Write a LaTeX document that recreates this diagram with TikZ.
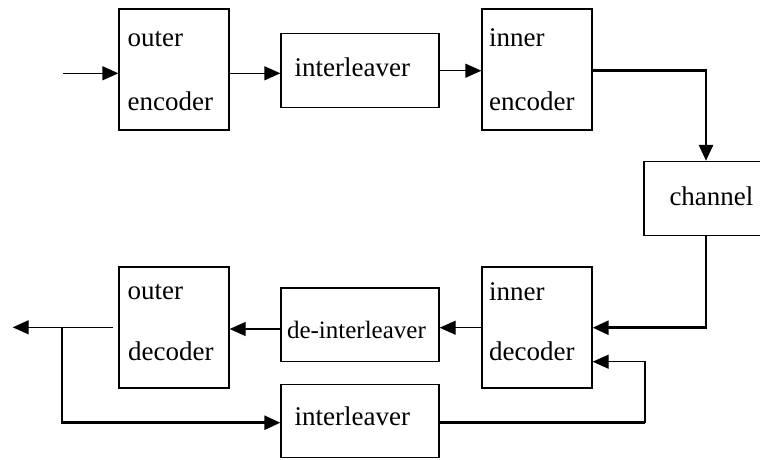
\documentclass[tikz,border=0pt]{standalone}
\usepackage{fontspec}
\setmainfont{Liberation Serif}
\usetikzlibrary{arrows.meta}
\begin{document}
\begin{tikzpicture}[x=1pt,y=-1pt,
  box/.style={draw,line width=1.3pt,rectangle,inner sep=0pt},
  txt/.style={inner sep=0pt,anchor=base west,font=\fontsize{27}{32}\selectfont},
  txtsmall/.style={inner sep=0pt,anchor=base west,font=\fontsize{25}{30}\selectfont},
  thinline/.style={line width=1.3pt},
  thickline/.style={line width=2.7pt},
  arr/.style={-{Triangle[length=16pt,width=14pt]}}]
\useasboundingbox (0,0) rectangle (760,459);
\clip (0,0) rectangle (760,459);
% boxes
\node[box,minimum width=110pt,minimum height=121pt] (oe) at (174,69.5) {};
\node[box,minimum width=158pt,minimum height=74pt] (il1) at (360,70.5) {};
\node[box,minimum width=110pt,minimum height=121pt] (ie) at (537,69.5) {};
\node[box,minimum width=122pt,minimum height=74pt] (ch) at (705,198.5) {};
\node[box,minimum width=110pt,minimum height=121pt] (id) at (537,327.5) {};
\node[box,minimum width=158pt,minimum height=73.5pt] (dil) at (360,324.8) {};
\node[box,minimum width=110pt,minimum height=121pt] (od) at (174,327.5) {};
\node[box,minimum width=158pt,minimum height=73pt] (il2) at (360,421) {};
% texts
\node[txt] (oe1) at (127.5,46) {outer};
\node[txt] (oe2) at (127.5,110) {encoder};
\node[txt] (il1t) at (294.5,76) {interleaver};
\node[txt] (ie1) at (489,46) {inner};
\node[txt] (ie2) at (489,110) {encoder};
\node[txt] (cht) at (669.3,205) {channel};
\node[txt] (id1) at (489,300) {inner};
\node[txt] (id2) at (489,360.5) {decoder};
\node[txtsmall] (dilt) at (286.8,338.3) {de-interleaver};
\node[txt] (od1) at (127.5,299.5) {outer};
\node[txt] (od2) at (128,360.5) {decoder};
\node[txt] (il2t) at (294.5,425) {interleaver};
% helper coordinates
\coordinate (yA) at (0,73.3);
\coordinate (yB) at (0,70.7);
\coordinate (xC) at (706,0);
\coordinate (yD) at (0,327.7);
\coordinate (yE) at (0,329);
\coordinate (src) at (63,73.3);
\coordinate (sink) at (12.7,327.3);
\coordinate (outstart) at (113,327.3);
\coordinate (br) at (62,327.3);
\coordinate (yF) at (0,422.7);
\coordinate (xG) at (645,0);
\coordinate (yH) at (0,361.7);
% connectors
\draw[thinline,arr] (src) -- (src -| oe.west);
\draw[thinline,arr] (oe.east |- yA) -- (il1.west |- yA);
\draw[thinline,arr] (il1.east |- yB) -- (ie.west |- yB);
\draw[thickline,arr] (ie.east |- yB) -| (ch.north -| xC);
\draw[thickline,arr] (ch.south -| xC) |- (id.east |- yD);
\draw[thinline,arr] (id.west |- yD) -- (dil.east |- yD);
\draw[thinline,arr] (dil.west |- yE) -- (od.east |- yE);
\draw[thinline,arr] (outstart) -- (sink);
\draw[thickline,arr] (br) |- (il2.west |- yF);
\draw[thickline] (il2.east |- yF) -- (xG |- yF);
\draw[thinline,arr] (xG |- yF) |- (id.east |- yH);
\end{tikzpicture}
\end{document}
